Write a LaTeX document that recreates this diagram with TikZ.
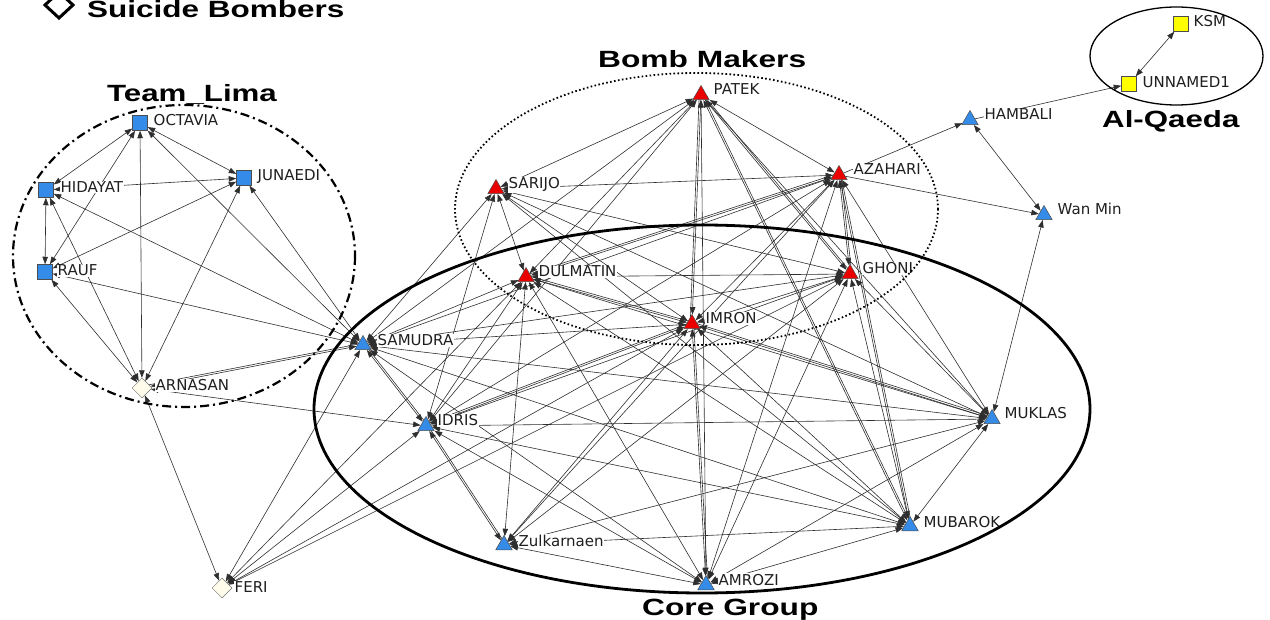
\documentclass[tikz,border=0pt]{standalone}
\usepackage{graphicx}
\usepackage{fontspec}
\newfontfamily\lblfont{DejaVu Sans}
\newfontfamily\ttlfont{Liberation Sans}
\usetikzlibrary{shapes.geometric,arrows.meta,backgrounds,calc}
\definecolor{nblue}{RGB}{52,140,232}
\definecolor{nred}{RGB}{235,0,0}
\definecolor{nyel}{RGB}{255,255,0}
\definecolor{ncream}{RGB}{255,252,236}
\tikzset{
  tri/.style={regular polygon, regular polygon sides=3, minimum size=19pt, inner sep=0pt, draw=black!70, line width=0.5pt, fill=#1},
  sq/.style={rectangle, minimum size=15pt, inner sep=0pt, draw=black!70, line width=0.5pt, fill=#1},
  dia/.style={diamond, minimum width=20pt, minimum height=20pt, inner sep=0pt, draw=black!55, line width=0.5pt, fill=ncream},
  lbl/.style={anchor=base west, fill=white, inner sep=0.5pt, font=\lblfont\fontsize{15}{16}\selectfont, text=black!88},
  ttl/.style={anchor=base west, inner sep=0pt, font=\ttlfont\bfseries\fontsize{23.5}{26}\selectfont},
  edge/.style={draw=black!82, line width=0.6pt},
  >={Triangle[length=7.5pt,width=5.5pt]}
}
\newcommand\place[7]{\node[#4] (#1) at (#2,#3) {}; \node[lbl] (#1L) at (#6,#7) {#5};}
\begin{document}
\begin{tikzpicture}[x=1pt,y=-1pt]
\useasboundingbox (0,0) rectangle (1270,620);
\clip (0,0) rectangle (1270,620);
% nodes
\place{OCT}{140}{123}{sq=nblue}{OCTAVIA}{153}{126}
\place{JUN}{244}{178}{sq=nblue}{JUNAEDI}{257}{181}
\place{HID}{46}{190}{sq=nblue}{HIDAYAT}{60}{193}
\place{RAUF}{45}{272}{sq=nblue}{RAUF}{57}{276}
\place{ARN}{142}{388}{dia}{ARNASAN}{155}{391}
\place{FERI}{222}{588}{dia}{FERI}{234}{592}
\place{SAM}{363}{345}{tri=nblue}{SAMUDRA}{377}{346}
\place{IDR}{426}{426}{tri=nblue}{IDRIS}{437}{426}
\place{ZUL}{504}{545}{tri=nblue}{Zulkarnaen}{518}{546}
\place{AMR}{706}{585}{tri=nblue}{AMROZI}{718}{585}
\place{MUB}{910}{526}{tri=nblue}{MUBAROK}{923}{527}
\place{MUK}{992}{419}{tri=nblue}{MUKLAS}{1004}{419}
\place{IMR}{692}{324}{tri=nred}{IMRON}{705}{324}
\place{DUL}{526}{277}{tri=nred}{DULMATIN}{538}{277}
\place{SAR}{496}{189}{tri=nred}{SARIJO}{508}{189}
\place{PAT}{701}{95}{tri=nred}{PATEK}{713}{95}
\place{AZA}{839}{175}{tri=nred}{AZAHARI}{853}{175}
\place{GHO}{850}{274}{tri=nred}{GHONI}{862}{274}
\place{HAM}{970}{120}{tri=nblue}{HAMBALI}{984}{120}
\place{WAN}{1044}{215}{tri=nblue}{Wan Min}{1057}{215}
\place{UNN}{1129}{84}{sq=nyel}{UNNAMED1}{1142}{88}
\place{KSM}{1181}{24}{sq=nyel}{KSM}{1193}{27}
% edges
\begin{pgfonlayer}{background}
\foreach \a/\b in {OCT/HID,OCT/RAUF,OCT/JUN,OCT/ARN,OCT/SAM,
  HID/JUN,HID/RAUF,HID/ARN,HID/SAM,JUN/RAUF,JUN/ARN,JUN/SAM,
  RAUF/ARN,RAUF/SAM,ARN/SAM,ARN/IDR,ARN/FERI,
  FERI/SAM,FERI/IDR,FERI/DUL,FERI/IMR,FERI/GHO,
  SAM/IDR,SAM/AMR,SAM/MUB,SAM/MUK,SAM/IMR,SAM/DUL,SAM/SAR,SAM/PAT,SAM/AZA,SAM/GHO,
  IDR/ZUL,IDR/AMR,IDR/MUB,IDR/MUK,IDR/IMR,IDR/DUL,IDR/SAR,IDR/PAT,IDR/AZA,IDR/GHO,
  ZUL/AMR,ZUL/MUB,ZUL/MUK,ZUL/IMR,ZUL/DUL,ZUL/AZA,ZUL/GHO,
  AMR/MUB,AMR/MUK,AMR/IMR,AMR/DUL,AMR/PAT,AMR/AZA,AMR/GHO,
  MUB/MUK,MUB/IMR,MUB/DUL,MUB/SAR,MUB/PAT,MUB/AZA,MUB/GHO,
  MUK/IMR,MUK/DUL,MUK/SAR,MUK/PAT,MUK/AZA,MUK/GHO,
  IMR/DUL,IMR/SAR,IMR/PAT,IMR/AZA,IMR/GHO,
  DUL/SAR,DUL/PAT,DUL/AZA,DUL/GHO,
  SAR/PAT,SAR/AZA,SAR/GHO,PAT/AZA,PAT/GHO,AZA/GHO,
  HAM/WAN,MUK/WAN,UNN/KSM}
  {\draw[edge,<->] (\a) -- (\b);}
\foreach \a/\b in {SAM/IDR,IDR/ZUL,IMR/PAT,IMR/AMR,AZA/MUB,DUL/IMR,IMR/MUK,ARN/SAM,
  DUL/AZA,IDR/IMR,PAT/GHO,AZA/GHO,PAT/MUB}
  {\draw[edge] ($(\a)!1.8pt!90:(\b)$) -- ($(\b)!1.8pt!-90:(\a)$);}
\draw[edge,->] (AZA) -- (HAM);
\draw[edge,->] (AZA) -- (WAN);
\draw[edge,->] (HAM) -- (UNN);
\end{pgfonlayer}
% group ellipses
\draw[line width=2.2pt, dash pattern=on 9pt off 4pt on 2pt off 4pt] (184,256) ellipse [x radius=171, y radius=151];
\draw[line width=1.8pt, dash pattern=on 1.6pt off 2.4pt] (696.5,209) ellipse [x radius=241.5, y radius=136];
\draw[line width=2.8pt] (702,409) ellipse [x radius=388, y radius=184];
\draw[line width=1.3pt] (1176.5,56) ellipse [x radius=86.5, y radius=49];
% titles
\node[ttl] (tLima) at (107,102) {\scalebox{1.33}[1]{Team\_Lima}};
\node[ttl] (tBomb) at (598,68) {\scalebox{1.35}[1]{Bomb Makers}};
\node[ttl] (tQaeda) at (1102,128) {\scalebox{1.33}[1]{Al-Qaeda}};
\node[ttl] (tCore) at (642,615) {\scalebox{1.35}[1]{Core Group}};
\node[ttl] (tSuic) at (87,18) {\scalebox{1.34}[1]{Suicide Bombers}};
\draw[line width=3pt] (45,5) -- (59,-8) -- (73,5) -- (59,18) -- cycle;
\end{tikzpicture}
\end{document}
